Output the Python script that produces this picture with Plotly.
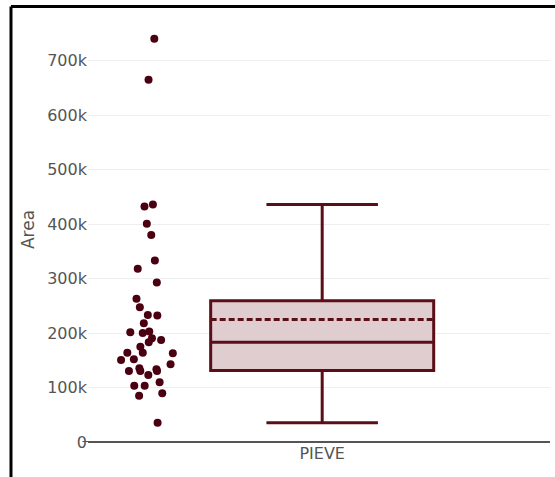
import plotly.graph_objects as go

category = "PIEVE"
area_values = [
    740000, 665000, 436000, 432000, 400500, 380000, 333000, 318000, 292700,
    263000, 247500, 233000, 232000, 218000, 200000, 201500, 202600, 190500,
    183000, 175000, 187000, 164000, 164000, 163000, 150600, 152000, 142800,
    130400, 135400, 130400, 133600, 130400, 123000, 103400, 103400, 109700,
    85000, 89500, 35500,
]
y_tick_vals = [0, 100000, 200000, 300000, 400000, 500000, 600000, 700000]
y_tick_text = ["0", "100k", "200k", "300k", "400k", "500k", "600k", "700k"]

line_color = "#5a0f18"
marker_color = "#4b0012"
fill_color = "#e0cdd0"

fig = go.Figure()
fig.add_trace(go.Box(
    y=area_values,
    x=[category] * len(area_values),
    name=category,
    boxpoints="all",
    boxmean=True,
    jitter=0.3,
    pointpos=-1.55,
    width=0.7,
    line=dict(color=line_color, width=3),
    fillcolor=fill_color,
    marker=dict(color=marker_color, size=8),
    showlegend=False,
))

font_family = "DejaVu Sans"
fig.update_layout(
    width=555,
    height=477,
    margin=dict(l=88, r=5, t=17, b=35),
    paper_bgcolor="white",
    plot_bgcolor="white",
    font=dict(family=font_family, size=16, color="#555555"),
    xaxis=dict(
        type="category",
        range=[-0.735, 0.715],
        showgrid=False,
        zeroline=False,
        tickfont=dict(size=16, color="#555555"),
    ),
    yaxis=dict(
        title=dict(text="Area", font=dict(size=17, color="#555555"), standoff=8),
        range=[0, 780000],
        tickvals=y_tick_vals,
        ticktext=y_tick_text,
        showgrid=True,
        gridcolor="#eeeeee",
        gridwidth=1,
        zeroline=True,
        zerolinecolor="#555555",
        zerolinewidth=2,
        tickfont=dict(size=16, color="#555555"),
        ticks="",
    ),
    shapes=[
        dict(type="line", xref="paper", yref="y", x0=-0.012, x1=0, y0=0, y1=0,
             line=dict(color="#555555", width=2)),
        dict(type="line", xref="paper", yref="paper", x0=-0.1667, x1=1.02,
             y0=1.0247, y1=1.0247, line=dict(color="black", width=3)),
        dict(type="line", xref="paper", yref="paper", x0=-0.1667, x1=-0.1667,
             y0=1.0247, y1=-0.1, line=dict(color="black", width=3)),
    ],
)

fig.write_html(
    "out.html",
    config={"displayModeBar": False},
    post_script="document.body.style.margin='0';",
)
